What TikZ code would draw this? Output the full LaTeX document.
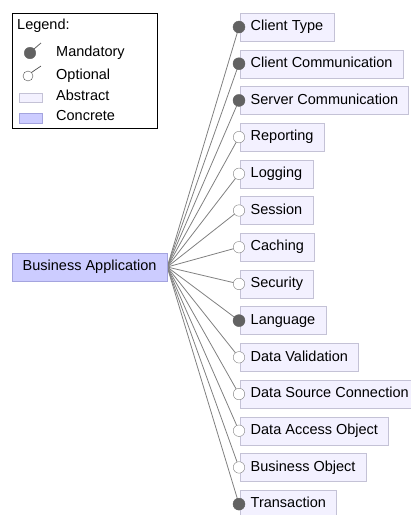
\documentclass[tikz,border=0pt]{standalone}
\usepackage{fontspec}
\setmainfont{Liberation Sans}
\usetikzlibrary{backgrounds}
\definecolor{abstractfill}{RGB}{243,241,255}
\definecolor{abstractdraw}{RGB}{196,194,214}
\definecolor{concretefill}{RGB}{204,204,255}
\definecolor{concretedraw}{RGB}{164,164,222}
\definecolor{dotgray}{RGB}{98,98,98}
\definecolor{linegray}{RGB}{128,128,128}
\tikzset{
  feature/.style={draw=abstractdraw, fill=abstractfill, anchor=west,
    minimum height=28pt, inner xsep=10.5pt, inner ysep=0pt,
    text height=10.5pt, text depth=3pt, font=\fontsize{14.5pt}{16pt}\selectfont},
  rootbox/.style={feature, draw=concretedraw, fill=concretefill},
  mand/.style={circle, draw=dotgray, fill=dotgray, minimum size=12pt, inner sep=0pt},
  opt/.style={circle, draw=linegray, fill=white, minimum size=11.5pt, inner sep=0pt},
  conn/.style={draw=linegray, line width=0.8pt},
  legendtext/.style={anchor=west, inner sep=0pt, text height=10.5pt, text depth=3pt,
    font=\fontsize{14.5pt}{16pt}\selectfont},
}
\begin{document}
\begin{tikzpicture}[x=1pt, y=-1pt]
\useasboundingbox (0,0) rectangle (411,515);

% legend
\node[draw=black, line width=0.9pt, minimum width=145pt, minimum height=115pt,
      anchor=north west, inner sep=0pt] (legend) at (12,13) {};
\node[legendtext] (lgtitle) at (17,26) {Legend:};
\node[mand, minimum size=11.5pt] (lgm) at (30,53) {};
\coordinate (lgmtip) at (41,43);
\draw[conn, draw=dotgray] (lgm.45) -- (lgmtip);
\node[legendtext] (lgmt) at (56,53) {Mandatory};
\node[opt, minimum size=10pt, draw=black!70] (lgo) at (28,76) {};
\coordinate (lgotip) at (41,66);
\draw[conn, draw=black!70, line width=0.7pt] (lgo.45) -- (lgotip);
\node[legendtext] (lgot) at (56,76) {Optional};
\node[draw=abstractdraw, fill=abstractfill, minimum width=23pt, minimum height=9pt,
      inner sep=0pt, anchor=north west] (lga) at (19,93) {};
\node[legendtext] (lgat) at (56,97) {Abstract};
\node[draw=concretedraw, fill=concretefill, minimum width=23pt, minimum height=10pt,
      inner sep=0pt, anchor=north west] (lgc) at (19,113) {};
\node[legendtext] (lgct) at (56,117) {Concrete};

% root feature
\node[rootbox] (root) at (12,267) {Business Application};

% sub-features: name / kind
\foreach \lbl/\kind [count=\i from 0] in {
  Client Type/mand,
  Client Communication/mand,
  Server Communication/mand,
  Reporting/opt,
  Logging/opt,
  Session/opt,
  Caching/opt,
  Security/opt,
  Language/mand,
  Data Validation/opt,
  Data Source Connection/opt,
  Data Access Object/opt,
  Business Object/opt,
  Transaction/mand} {
  \pgfmathsetmacro{\yy}{27+36.7*\i}
  \node[feature] (f\i) at (240,\yy) {\lbl};
  \node[\kind] (k\i) at (239,\yy) {};
  \begin{pgfonlayer}{background}
    \draw[conn] (root.east) -- (k\i.center);
  \end{pgfonlayer}
}
\end{tikzpicture}
\end{document}
